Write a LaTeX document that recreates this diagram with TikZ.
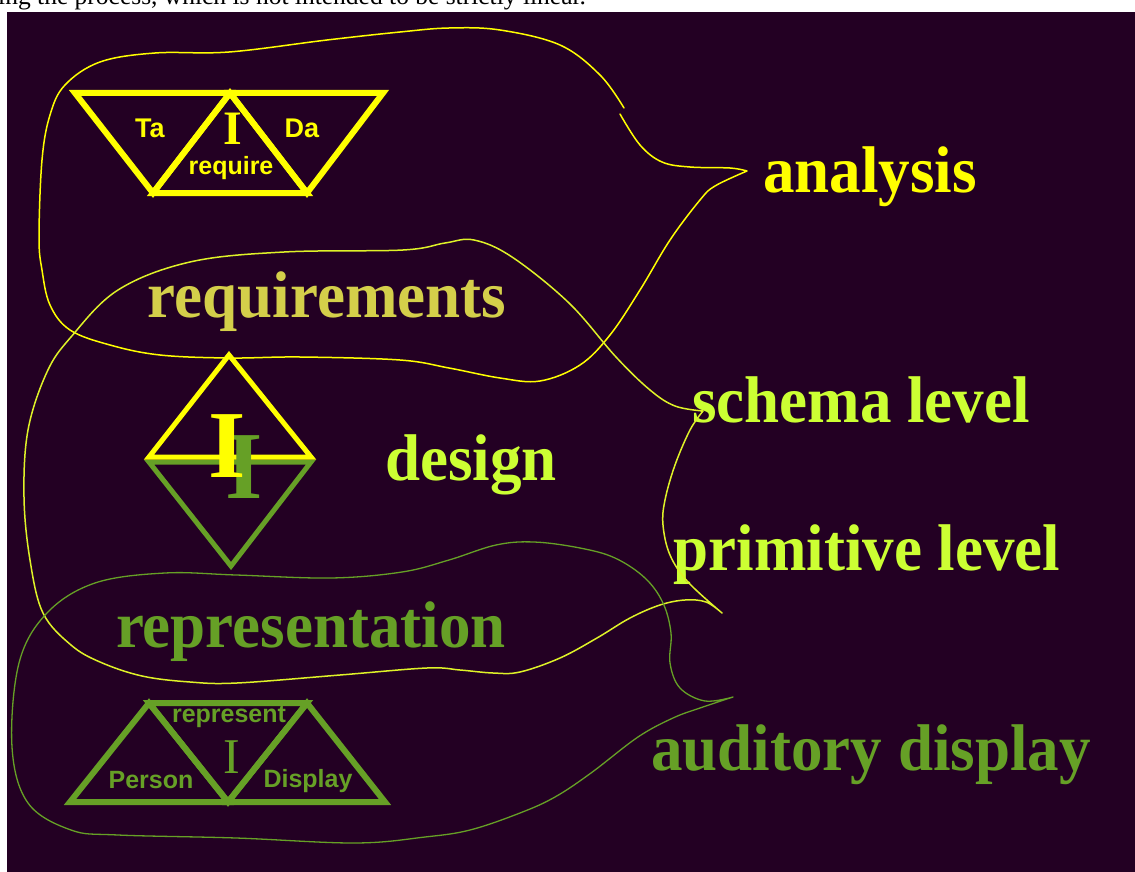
\documentclass[tikz,border=0pt]{standalone}
\usepackage{fontspec}
\setmainfont{Liberation Serif}
\newfontfamily\labelsans{Liberation Sans}
\definecolor{night}{RGB}{35,0,35}
\definecolor{sun}{RGB}{255,255,0}
\definecolor{straw}{RGB}{212,207,74}
\definecolor{lime}{RGB}{204,255,51}
\definecolor{limeline}{RGB}{222,242,40}
\definecolor{leaf}{RGB}{102,160,38}
\begin{document}
\begin{tikzpicture}[x=1pt,y=-1pt,
  title/.style={font=\fontsize{66}{70}\selectfont\bfseries, xscale=0.955, inner sep=0, anchor=base},
  tag/.style={font=\labelsans\fontsize{25}{28}\selectfont\bfseries, inner sep=0, anchor=base},
  bigI/.style={font=\fontsize{96}{100}\selectfont\bfseries, inner sep=0},
  tri/.style={line width=6pt, line join=miter},
  blob/.style={line width=1.5pt, line cap=round}
]
% page and dark panel
\fill[white] (0,0) rectangle (1135,872);
\fill[night] (7,12) rectangle (1135,872);
\begin{scope}
  \clip (0,0) rectangle (1135,12);
  \node[anchor=base west, inner sep=0, font=\fontsize{25.5}{28}\selectfont] (lead) at (-2,5)
    {ing the process, which is not intended to be strictly linear.};
\end{scope}

% analysis triad
\draw[tri, sun] (75,93) -- (230,93) -- (153,193) -- cycle;
\draw[tri, sun] (230,93) -- (383,93) -- (307,193) -- cycle;
\draw[tri, sun] (153,193) -- (230,93) -- (307,193) -- cycle;
\node[tag, sun, font=\labelsans\fontsize{27}{30}\selectfont\bfseries] (ta) at (150,138) {Ta};
\node[tag, sun, font=\labelsans\fontsize{27}{30}\selectfont\bfseries] (da) at (302,138) {Da};
\node[inner sep=0, sun, font=\fontsize{48}{50}\selectfont\bfseries] (ia) at (233,129) {I};
\node[tag, sun] (require) at (231,174) {require};

% design diamond
\draw[tri, line width=5pt, leaf] (149,462) -- (311,462) -- (231,566) -- cycle;
\draw[tri, line width=5pt, sun] (229,355) -- (311,457) -- (149,457) -- cycle;
\node[bigI, leaf] (ig) at (244,467) {I};
\node[bigI, sun] (iy) at (227,446) {I};

% representation triad
\draw[tri, leaf] (70,802) -- (149,703) -- (228,802) -- cycle;
\draw[tri, leaf] (149,703) -- (307,703) -- (228,802) -- cycle;
\draw[tri, leaf] (228,802) -- (307,703) -- (385,802) -- cycle;
\node[tag, leaf] (represent) at (229,722) {represent};
\node[inner sep=0, leaf, font=\fontsize{50}{52}\selectfont] (ir) at (232,757) {I};
\node[tag, leaf] (person) at (151,788) {Person};
\node[tag, leaf] (display) at (308,787) {Display};

% titles
\node[title, sun] (analysis) at (870,193) {analysis};
\node[title, straw] (requirements) at (327,317) {requirements};
\node[title, lime] (schema) at (861,422) {schema level};
\node[title, lime] (design) at (471,480) {design};
\node[title, lime] (primitive) at (867,570) {primitive level};
\node[title, leaf] (representation) at (311,647) {representation};
\node[title, leaf] (auditory) at (871,770) {auditory display};

% analysis outline
\draw[blob, sun] plot[smooth, tension=0.6] coordinates {
  (620,114) (640,145) (662,162) (690,167) (730,168) (747,171)}
  plot[smooth, tension=0.6] coordinates {
  (747,171) (715,186) (700,200) (670,240) (640,290) (610,335) (580,365)
  (540,381) (500,378) (449,368) (400,360) (300,357) (229,358) (160,355)
  (110,345) (70,330) (50,305) (42,270) (39,237) (42,160) (50,115) (65,85)
  (100,62) (155,53) (229,52) (327,40) (400,32) (449,28) (500,30) (560,45)
  (600,75) (624,108)};

% design outline
\draw[blob, limeline] plot[smooth, tension=0.6] coordinates {
  (703,411) (690,430) (675,465) (665,500) (663,525) (670,555) (688,582) (722,613)}
  plot[smooth, tension=0.6] coordinates {
  (722,613) (706,602) (685,600) (660,605) (630,618) (597,638) (560,658)
  (520,672) (493,673) (460,670) (427,668) (340,675) (237,683) (190,682)
  (142,676) (100,662) (71,645) (43,613) (30,560) (24,497) (28,430) (47,372)
  (71,337) (118,290) (190,262) (284,252) (403,250) (445,243) (474,240)
  (512,257) (569,303) (616,357) (650,390) (675,406) (703,411)};

% representation outline
\draw[blob, line width=1.3pt, leaf] plot[smooth, tension=0.6] coordinates {
  (733,697) (700,708) (673,718) (638,737) (591,773) (555,797) (520,813)
  (470,830) (425,837) (355,843) (236,838) (118,835) (71,830) (28,803)
  (12,747) (19,663) (47,613) (95,583) (165,573) (236,575) (331,578)
  (402,572) (449,560) (496,545) (534,542) (580,548) (615,558) (645,578)
  (663,603) (671,633) (670,663) (680,688) (705,701) (733,697)};
\end{tikzpicture}
\end{document}
